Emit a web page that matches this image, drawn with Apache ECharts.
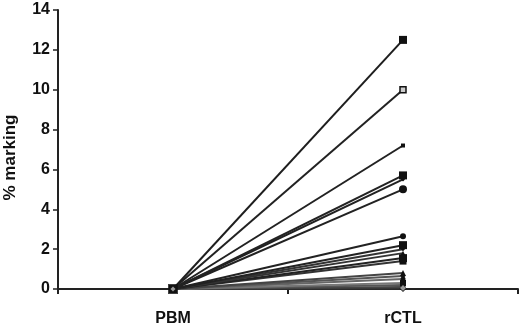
<!DOCTYPE html>
<html>
<head>
<meta charset="utf-8">
<script src="https://cdn.jsdelivr.net/npm/echarts@6/dist/echarts.min.js"></script>
<style>
  html, body { margin: 0; padding: 0; background: #fff; }
  #chart { width: 520px; height: 327px; }
</style>
</head>
<body>
<div id="chart"></div>
<script>
const categories = ["PBM", "rCTL"];
// one line per sample: value at PBM, value at rCTL
const pbmValues  = [0, 0, 0, 0, 0, 0, 0, 0, 0, 0, 0, 0, 0, 0, 0, 0, 0, 0, 0];
const rctlValues = [12.5, 10.0, 7.2, 5.7, 5.5, 5.0, 2.65, 2.2, 2.0, 1.8, 1.55, 1.4, 0.8, 0.65, 0.5, 0.3, 0.2, 0.1, 0.02];
const symbols    = ["rect", "hollow", "rect", "rect", "diamond", "circle", "circle", "rect", "diamond", "triangle", "rect", "rect", "triangle", "diamond", "circle", "rect", "diamond", "circle", "diamond"];
const symSizes   = [8, 6, 4, 8, 4, 8, 6, 8, 4, 5, 8, 7, 6, 5, 5, 6, 5, 5, 7];
const lineGrays  = ["#1e1e1e", "#222", "#222", "#222", "#222", "#222", "#222", "#222", "#333", "#333", "#222", "#333", "#444", "#555", "#666", "#777", "#555", "#444", "#333"];
const yTicks = { min: 0, max: 14, interval: 2 };

const font = "'Liberation Sans', Arial, sans-serif";
const chart = echarts.init(document.getElementById("chart"), null, { renderer: "canvas" });

const series = rctlValues.map((v, i) => {
  const hollow = symbols[i] === "hollow";
  return {
    type: "line",
    data: [pbmValues[i], v],
    symbol: hollow ? "rect" : symbols[i],
    symbolSize: symSizes[i],
    showSymbol: true,
    lineStyle: { color: lineGrays[i], width: 2 },
    itemStyle: { color: hollow ? "#ccc" : "#111", borderColor: "#111", borderWidth: hollow ? 1.5 : 0 },
    z: 20 - i,
    animation: false,
  };
});
// PBM marker (square with diamond inside)
series.push({
  type: "scatter", data: [[0, 0]], symbol: "rect", symbolSize: 10,
  itemStyle: { color: "#111" }, z: 30, animation: false,
});
series.push({
  type: "scatter", data: [[0, 0]], symbol: "diamond", symbolSize: 5,
  itemStyle: { color: "#bbb" }, z: 31, animation: false,
});
series.push({
  type: "scatter", data: [[1, 0.05]], symbol: "diamond", symbolSize: 6,
  itemStyle: { color: "#bbb" }, z: 31, animation: false,
});

chart.setOption({
  backgroundColor: "#fff",
  animation: false,
  grid: { left: 58, right: 2, top: 10, bottom: 38, outerBoundsMode: "none", containLabel: false },
  xAxis: {
    type: "category",
    data: categories,
    boundaryGap: true,
    axisLine: { lineStyle: { color: "#222", width: 2 } },
    axisTick: { show: true, length: 5, inside: false, lineStyle: { color: "#222", width: 2 } },
    axisLabel: { color: "#111", fontFamily: font, fontWeight: "bold", fontSize: 16, margin: 22 },
    splitLine: { show: false },
  },
  yAxis: {
    type: "value",
    min: yTicks.min, max: yTicks.max, interval: yTicks.interval,
    name: "% marking",
    nameLocation: "middle",
    nameGap: 39,
    nameRotate: 90,
    nameTextStyle: { color: "#111", fontFamily: font, fontWeight: "bold", fontSize: 17, padding: [0, 16, 0, 0] },
    axisLine: { show: true, lineStyle: { color: "#222", width: 2 } },
    axisTick: { show: true, length: 5, lineStyle: { color: "#222", width: 1.5 } },
    axisLabel: { color: "#111", fontFamily: font, fontWeight: "bold", fontSize: 16, margin: 8 },
    splitLine: { show: false },
  },
  series,
});
</script>
</body>
</html>
